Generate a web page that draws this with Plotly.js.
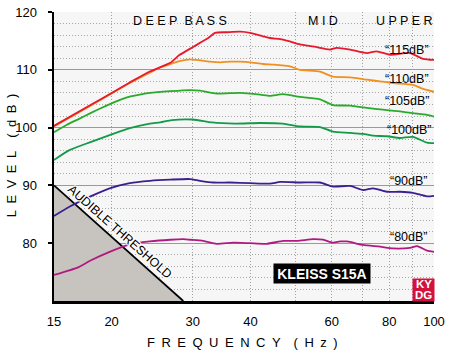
<!DOCTYPE html>
<html>
<head>
<meta charset="utf-8">
<script src="https://cdn.plot.ly/plotly-3.0.1.min.js"></script>
<style>
  html, body { margin: 0; padding: 0; background: #ffffff; }
  #chart { width: 450px; height: 353px; }
</style>
</head>
<body>
<div id="chart"></div>
<script>
// ---------- data ----------
var freq115 = [15, 18, 20, 22, 24.2, 26.8, 28, 30.1, 32.4, 33.5, 35.5, 38, 39.9, 42.6, 44.1, 46.4, 48.7, 51.2, 55, 59.5, 61.5, 65.8, 71.5, 75.1, 80.3, 88.7, 94.7, 100];
var db115   = [100.3, 103.9, 106.0, 107.9, 109.7, 111.2, 112.5, 114.0, 115.5, 116.4, 116.5, 116.6, 116.4, 115.8, 115.5, 115.3, 114.9, 114.4, 114.0, 113.5, 113.8, 113.5, 112.9, 113.2, 112.6, 112.9, 111.9, 111.7];

var freq110 = [15, 18, 20, 22, 24.2, 25.5, 26.8, 28.1, 29.6, 30.6, 32.7, 34.4, 36.1, 38, 39.9, 42.6, 45, 48.7, 51.2, 56.6, 60.4, 65.8, 71.6, 76.4, 81.5, 90, 94.7, 100];
var db110   = [100.2, 103.8, 105.9, 107.8, 109.5, 110.4, 111.0, 111.5, 111.8, 111.7, 111.4, 111.3, 111.4, 111.4, 111.3, 111.0, 110.9, 110.6, 110.0, 109.7, 108.8, 108.7, 108.3, 108.0, 107.7, 107.4, 106.7, 106.2];

var freq105 = [15, 16, 17, 18, 19, 20, 21, 22, 23, 24.2, 26.8, 29.6, 31.1, 33.8, 38, 42, 44.1, 47.1, 51.2, 56.6, 60.4, 65.8, 71.6, 77.5, 84.4, 90, 96.6, 100];
var db105   = [99.2, 100.5, 101.5, 102.5, 103.4, 104.2, 104.9, 105.4, 105.7, 106.0, 106.3, 106.5, 106.4, 105.9, 106.0, 105.7, 105.5, 105.8, 105.3, 104.9, 103.9, 103.8, 103.4, 103.1, 102.8, 102.5, 102.2, 101.9];

var freq100 = [15, 16.2, 18, 19.8, 21.9, 24.2, 25.5, 27, 30, 33, 37, 42, 47, 51.2, 56.6, 60.4, 65.8, 70.2, 73.8, 79.1, 84.4, 90, 96.6, 100];
var db100   = [94.4, 96.1, 97.5, 98.7, 99.9, 100.7, 100.9, 101.3, 101.4, 100.9, 100.7, 100.8, 100.7, 100.2, 100.1, 99.3, 99.1, 98.9, 98.6, 98.5, 98.2, 98.4, 97.4, 97.3];

var freq90 = [15, 16.2, 18, 19.8, 21.9, 24.2, 26.8, 29.6, 31.1, 33.2, 36.1, 39.9, 44.1, 46.4, 51.2, 56.6, 60.4, 65.8, 70.2, 73.8, 79.1, 84.4, 90, 96.6, 100];
var db90   = [84.7, 86.3, 88.1, 89.5, 90.4, 90.8, 91.0, 91.1, 90.8, 90.5, 90.5, 90.4, 90.3, 90.6, 90.5, 90.5, 89.8, 89.9, 89.2, 89.5, 88.9, 88.9, 88.7, 88.1, 88.2];

var freq80 = [15, 16.2, 17, 18, 19.8, 21.9, 24.2, 26.8, 28.6, 29.6, 31.6, 33.8, 36.7, 39.9, 43.4, 47.1, 50.5, 54.7, 57.5, 60.4, 62.6, 64.8, 70.2, 76.4, 81.5, 88.7, 91.9, 96.6, 100];
var db80   = [74.5, 75.3, 75.9, 77.0, 78.5, 79.8, 80.3, 80.6, 80.7, 80.6, 80.4, 79.9, 80.1, 80.0, 79.9, 80.4, 80.4, 80.7, 80.6, 80.1, 80.3, 80.3, 79.7, 79.4, 79.1, 79.2, 79.5, 78.7, 78.5];

// audible threshold region (corner points)
var thrFreq = [15, 28.6, 15];
var thrDb   = [90, 70, 70];

var seriesNames  = ['80dB', '90dB', '100dB', '105dB', '110dB', '115dB'];
var seriesColors = ['#b01a80', '#3c1f8f', '#139a48', '#2aaa2a', '#f0901e', '#e8192c'];
var labelFreq    = [88.4, 88.4, 88.4, 87.5, 87.5, 87.5];
var labelDb      = [81.1, 90.8, 99.6, 104.6, 108.45, 113.5];

var xTickVals = [15, 20, 30, 40, 60, 80, 100];
var xTickText = ['15', '20', '30', '40', '60', '80', '100'];
var xCrossTicks = [20, 40, 60, 80];
var xMinorGrid = [50, 70, 90];
var yTickVals = [80, 90, 100, 110, 120];
var yTickText = ['80', '90', '100', '110', '120'];

// ---------- traces ----------
var lx = function (v) { return Math.log10(v); };
var traces = [];
traces.push({
  x: thrFreq, y: thrDb, type: 'scatter', mode: 'lines',
  fill: 'toself', fillcolor: '#c7c4c0', line: { width: 0, color: 'rgba(0,0,0,0)' },
  hoverinfo: 'skip'
});
traces.push({
  x: [thrFreq[0], thrFreq[1]], y: [thrDb[0], thrDb[1]], type: 'scatter', mode: 'lines',
  line: { color: '#000000', width: 1.8 }, hoverinfo: 'skip'
});
var fs = [freq80, freq90, freq100, freq105, freq110, freq115];
var ds = [db80, db90, db100, db105, db110, db115];
for (var i = 0; i < fs.length; i++) {
  traces.push({
    x: fs[i], y: ds[i], type: 'scatter', mode: 'lines', name: seriesNames[i],
    line: { color: seriesColors[i], width: 1.8, shape: 'spline', smoothing: 0.6 }
  });
}

// ---------- annotations ----------
var annots = [];
var F = 'Liberation Sans, Arial, Helvetica, sans-serif';
function addText(xf, yd, txt, size, extra) {
  var a = { x: lx(xf), y: yd, xref: 'x', yref: 'y', text: txt, showarrow: false,
            font: { family: F, size: size, color: '#000000' }, xanchor: 'center', yanchor: 'middle' };
  if (extra) for (var k in extra) a[k] = extra[k];
  annots.push(a);
}
addText(28.1, 118.5, 'D E E P\u00A0\u00A0B A S S', 12.5);
addText(57.5, 118.5, 'M I D', 12.5);
addText(86.1, 118.5, 'U P P E R', 12.5);
for (var j = 0; j < seriesNames.length; j++) {
  addText(labelFreq[j], labelDb[j], '\u201C' + seriesNames[j] + '\u201D', 12.5);
}
annots.push({
  x: lx(20.85), y: 81.95, xref: 'x', yref: 'y', text: 'AUDIBLE THRESHOLD', showarrow: false,
  textangle: 41.5,
  font: { family: F, size: 12.5, color: '#000000',
          shadow: '-1px -1px 0 #fff, 1px -1px 0 #fff, -1px 1px 0 #fff, 1px 1px 0 #fff, 0 1px 0 #fff, 0 -1px 0 #fff, 1px 0 0 #fff, -1px 0 0 #fff' }
});
annots.push({
  x: lx(57.2), y: 74.76, xref: 'x', yref: 'y', text: '<b>KLEISS S15A</b>', showarrow: false,
  font: { family: F, size: 14, color: '#ffffff' }, bgcolor: '#000000', borderpad: 0,
  width: 96, height: 19
});
annots.push({
  x: lx(94.9), y: 71.9, xref: 'x', yref: 'y', text: ' ', showarrow: false,
  bgcolor: '#d4103c', borderpad: 0, width: 21, height: 22, font: { size: 10 }
});
addText(94.9, 72.9, '<b>KY</b>', 11.5, { font: { family: F, size: 11.5, color: '#ffffff' } });
addText(94.9, 71.0, '<b>DG</b>', 11.5, { font: { family: F, size: 11.5, color: '#ffffff' } });

annots.push({
  x: 0.497, y: -0.142, xref: 'paper', yref: 'paper', showarrow: false,
  text: 'F\u2002R\u2002E\u2002Q\u2002U\u2002E\u2002N\u2002C\u2002Y\u2002\u2002(\u2002H\u2002z\u2002)',
  font: { family: F, size: 13, color: '#000000' }, xanchor: 'center', yanchor: 'middle'
});
annots.push({
  x: -0.112, y: 0.506, xref: 'paper', yref: 'paper', showarrow: false, textangle: -90,
  text: 'L\u2002E\u2002V\u2002E\u2002L\u2002\u2002(\u2002d\u2002B\u2002)',
  font: { family: F, size: 13, color: '#000000' }, xanchor: 'center', yanchor: 'middle'
});

// ---------- layout ----------
var xr = [lx(15), lx(100)];
var layout = {
  width: 450, height: 353,
  margin: { l: 54, r: 16, t: 12, b: 52 },
  paper_bgcolor: '#ffffff', plot_bgcolor: '#f6f6f6',
  showlegend: false,
  font: { family: F, color: '#000000' },
  xaxis: {
    type: 'log', range: xr, tickmode: 'array', tickvals: xTickVals, ticktext: xTickText,
    ticks: '', showline: true, linecolor: '#000000', linewidth: 2.5,
    showgrid: true, gridcolor: '#a0a0a0', gridwidth: 1, griddash: '1px,2px',
    minor: { tickmode: 'array', tickvals: xMinorGrid, showgrid: true, gridcolor: '#a0a0a0', gridwidth: 1, griddash: '1px,2px', ticks: '' },
    tickfont: { family: F, size: 13, color: '#000000' }, ticklabelstandoff: 7,
    zeroline: false, fixedrange: true
  },
  xaxis2: {
    type: 'log', range: xr, overlaying: 'x', anchor: 'y', side: 'bottom',
    tickmode: 'array', tickvals: xCrossTicks, ticks: 'outside', ticklen: 4, tickwidth: 2, tickcolor: '#000000',
    showticklabels: false, showgrid: false, showline: false, zeroline: false, fixedrange: true
  },
  xaxis3: {
    type: 'log', range: xr, overlaying: 'x', anchor: 'y', side: 'bottom',
    tickmode: 'array', tickvals: xCrossTicks, ticks: 'inside', ticklen: 4, tickwidth: 2, tickcolor: '#000000',
    showticklabels: false, showgrid: false, showline: false, zeroline: false, fixedrange: true
  },
  yaxis: {
    range: [70, 120], tickmode: 'array', tickvals: yTickVals, ticktext: yTickText,
    ticks: 'outside', ticklen: 4, tickwidth: 2, tickcolor: '#000000',
    showline: true, linecolor: '#000000', linewidth: 2.5,
    showgrid: true, gridcolor: '#9a9a9a', gridwidth: 1,
    minor: { tickmode: 'linear', tick0: 70, dtick: 2, showgrid: true, gridcolor: '#a8a8a8', gridwidth: 1, griddash: '1px,2px', ticks: '' },
    tickfont: { family: F, size: 13, color: '#000000' }, ticklabelstandoff: 8,
    zeroline: false, fixedrange: true
  },
  yaxis2: {
    range: [70, 120], overlaying: 'y', anchor: 'x', side: 'left',
    tickmode: 'array', tickvals: yTickVals, ticks: 'inside', ticklen: 4, tickwidth: 2, tickcolor: '#000000',
    showticklabels: false, showgrid: false, showline: false, zeroline: false, fixedrange: true
  },
  annotations: annots
};

Plotly.newPlot('chart', traces, layout, { staticPlot: true, displayModeBar: false });
</script>
</body>
</html>
